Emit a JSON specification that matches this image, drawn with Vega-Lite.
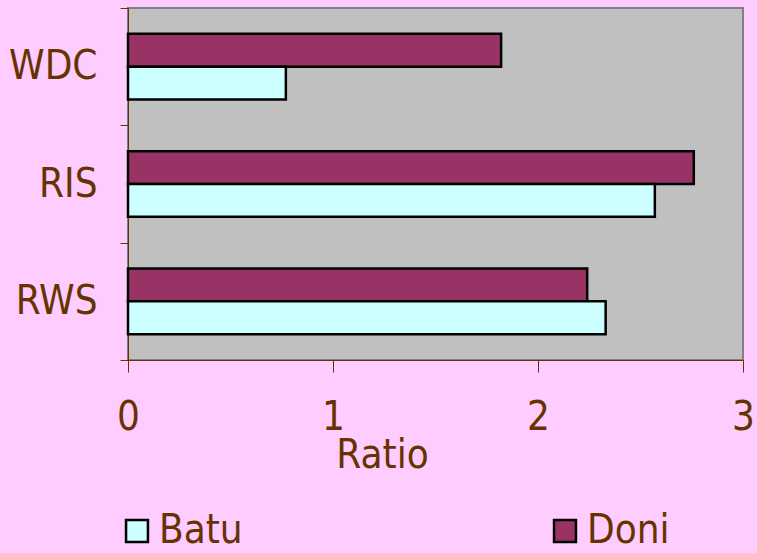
{
  "$schema": "https://vega.github.io/schema/vega-lite/v6.json",
  "width": 615,
  "height": 352,
  "autosize": {"type": "none"},
  "padding": {"left": 128, "top": 8, "right": 14, "bottom": 193},
  "background": "#FFCCFF",
  "data": {
    "values": [
      {"cat": "WDC", "series": "Doni", "value": 1.82},
      {"cat": "WDC", "series": "Batu", "value": 0.77},
      {"cat": "RIS", "series": "Doni", "value": 2.76},
      {"cat": "RIS", "series": "Batu", "value": 2.57},
      {"cat": "RWS", "series": "Doni", "value": 2.24},
      {"cat": "RWS", "series": "Batu", "value": 2.33}
    ]
  },
  "mark": {"type": "bar", "stroke": "#000000", "strokeWidth": 2.5},
  "encoding": {
    "y": {
      "field": "cat",
      "type": "nominal",
      "sort": ["WDC", "RIS", "RWS"],
      "scale": {"paddingInner": 0, "paddingOuter": 0},
      "axis": {
        "title": null,
        "tickBand": "extent",
        "tickSize": 8,
        "tickColor": "#663300",
        "domainColor": "#663300",
        "labelColor": "#663300",
        "labelFont": "DejaVu Sans Condensed",
        "labelFontSize": 40,
        "labelPadding": 23
      }
    },
    "yOffset": {
      "field": "series",
      "type": "nominal",
      "sort": ["Doni", "Batu"],
      "scale": {"paddingInner": 0, "paddingOuter": 0.786}
    },
    "x": {
      "field": "value",
      "type": "quantitative",
      "scale": {"domain": [0, 3], "nice": false},
      "axis": {
        "values": [0, 1, 2, 3],
        "grid": false,
        "tickSize": 12,
        "tickColor": "#663300",
        "domainColor": "#663300",
        "labelColor": "#663300",
        "labelFont": "DejaVu Sans Condensed",
        "labelFontSize": 40,
        "labelPadding": 25,
        "labelFlush": false,
        "title": "Ratio",
        "titleColor": "#663300",
        "titleFont": "DejaVu Sans Condensed",
        "titleFontSize": 40,
        "titleFontWeight": "normal",
        "titleX": 254,
        "titleY": 107,
        "titleAlign": "center",
        "titleBaseline": "alphabetic"
      }
    },
    "color": {
      "field": "series",
      "type": "nominal",
      "scale": {"domain": ["Batu", "Doni"], "range": ["#CCFFFF", "#993366"]},
      "legend": {
        "title": null,
        "orient": "none",
        "direction": "horizontal",
        "legendX": -11,
        "legendY": 503,
        "symbolType": "square",
        "symbolSize": 480,
        "symbolStrokeColor": "#000000",
        "symbolStrokeWidth": 2.5,
        "labelColor": "#663300",
        "labelFont": "DejaVu Sans Condensed",
        "labelFontSize": 40,
        "labelOffset": 2,
        "columnPadding": 302
      }
    }
  },
  "config": {
    "view": {"fill": "#C0C0C0", "stroke": "#808080", "strokeWidth": 2}
  }
}
